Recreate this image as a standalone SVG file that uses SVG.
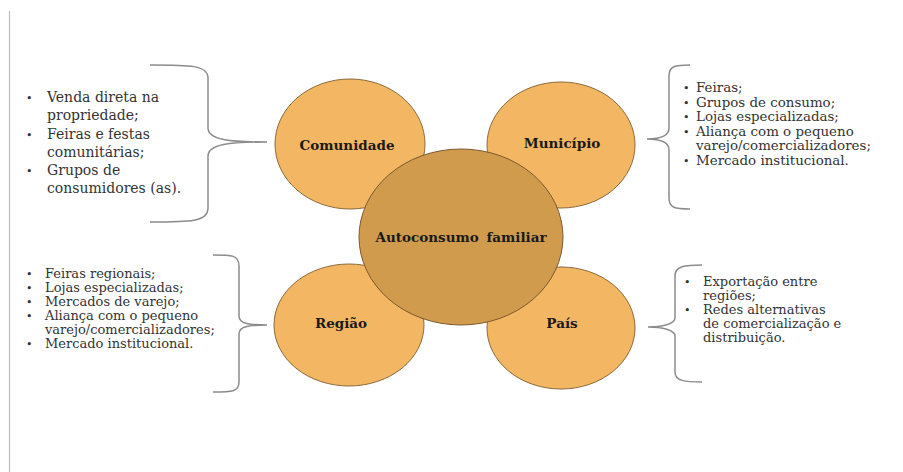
<svg xmlns="http://www.w3.org/2000/svg" width="903" height="472" viewBox="0 0 903 472">
<defs>
<style>
.outer{fill:#F3B663;stroke:#8A6A3C;stroke-width:1}
.center{fill:#D19B4E;stroke:#7A5A30;stroke-width:1}
.lbl{font-family:"DejaVu Serif","Liberation Serif",serif;font-weight:bold;font-size:13.5px;fill:#1a1a1a;text-anchor:middle}
.lst{font-family:"DejaVu Serif","Liberation Serif",serif;fill:#333}
.bul{font-size:11px}
.brace{fill:none;stroke:#8c8c8c;stroke-width:1.5}
</style>
</defs>
<rect width="903" height="472" fill="#ffffff"/>
<line x1="9.5" y1="11" x2="9.5" y2="472" stroke="#bdbdbd" stroke-width="1.2"/>

<g id="connectors">
<path class="brace" d="M150,65 C190,65 208,65 208,78 L208,128 C208,140 230,142 267,142 C230,142 208,144 208,156 L208,208 C208,222 190,222 150,222"/>
<path class="brace" d="M690,65 C675,65 669,66 669,76 L669,128 C669,136 660,139 647,139 C660,139 669,142 669,150 L669,198 C669,208 675,209 690,209"/>
<path class="brace" d="M213,255 C232,255 239,255 239,266 L239,316 C239,324 250,325 267,325 C250,325 239,326 239,334 L239,382 C239,392 232,392 213,392"/>
<path class="brace" d="M702,265 C685,265 675,266 675,276 L675,318 C675,324 662,327 648,327 C662,327 675,330 675,336 L675,372 C675,381 685,382 702,382"/>
</g>

<g id="node-comunidade">
<ellipse class="outer" cx="350" cy="144" rx="75" ry="65"/>
<text class="lbl" x="347" y="150">Comunidade</text>
</g>
<g id="node-municipio">
<ellipse class="outer" cx="561" cy="145" rx="74" ry="63"/>
<text class="lbl" x="562" y="148">Município</text>
</g>
<g id="node-regiao">
<ellipse class="outer" cx="349" cy="325" rx="75" ry="61"/>
<text class="lbl" x="341" y="328">Região</text>
</g>
<g id="node-pais">
<ellipse class="outer" cx="561" cy="328" rx="74" ry="61"/>
<text class="lbl" x="562" y="328">País</text>
</g>
<g id="node-autoconsumo">
<ellipse class="center" cx="461" cy="237" rx="102" ry="88"/>
<text class="lbl" x="461" y="242" style="word-spacing:3px">Autoconsumo familiar</text>
</g>

<g id="list-comunidade" class="lst" font-size="14">
<text class="bul" x="26" y="102">•</text>
<text class="bul" x="26" y="139">•</text>
<text class="bul" x="26" y="175">•</text>
<text x="47" y="102">Venda direta na</text>
<text x="47" y="120">propriedade;</text>
<text x="47" y="139">Feiras e festas</text>
<text x="47" y="157">comunitárias;</text>
<text x="47" y="175">Grupos de</text>
<text x="47" y="193">consumidores (as).</text>
</g>

<g id="list-municipio" class="lst" font-size="13.4">
<text class="bul" x="683" y="92">•</text>
<text class="bul" x="683" y="106.5">•</text>
<text class="bul" x="683" y="121">•</text>
<text class="bul" x="683" y="135.5">•</text>
<text class="bul" x="683" y="164.5">•</text>
<text x="696" y="92">Feiras;</text>
<text x="696" y="106.5">Grupos de consumo;</text>
<text x="696" y="121">Lojas especializadas;</text>
<text x="696" y="135.5">Aliança com o pequeno</text>
<text x="696" y="150">varejo/comercializadores;</text>
<text x="696" y="164.5">Mercado institucional.</text>
</g>

<g id="list-regiao" class="lst" font-size="13">
<text class="bul" x="26" y="278">•</text>
<text class="bul" x="26" y="292">•</text>
<text class="bul" x="26" y="306">•</text>
<text class="bul" x="26" y="320">•</text>
<text class="bul" x="26" y="348">•</text>
<text x="45" y="278">Feiras regionais;</text>
<text x="45" y="292">Lojas especializadas;</text>
<text x="45" y="306">Mercados de varejo;</text>
<text x="45" y="320">Aliança com o pequeno</text>
<text x="45" y="334">varejo/comercializadores;</text>
<text x="45" y="348">Mercado institucional.</text>
</g>

<g id="list-pais" class="lst" font-size="13">
<text class="bul" x="684" y="286">•</text>
<text class="bul" x="684" y="314">•</text>
<text x="703" y="286">Exportação entre</text>
<text x="703" y="300">regiões;</text>
<text x="703" y="314">Redes alternativas</text>
<text x="703" y="328">de comercialização e</text>
<text x="703" y="342">distribuição.</text>
</g>
</svg>
